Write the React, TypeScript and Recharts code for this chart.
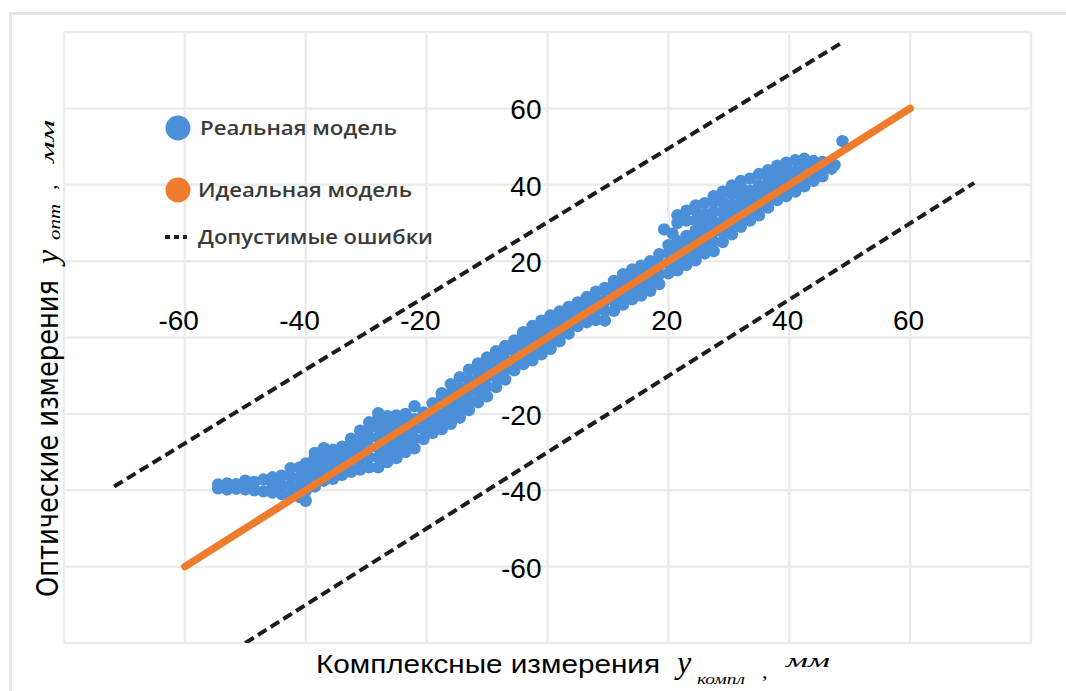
import React from 'react';
import { ScatterChart, Scatter, XAxis, YAxis, CartesianGrid, ReferenceDot } from 'recharts';

const W = 1066;
const H = 691;
const BLUE = '#4a8fd8';
const ORANGE = '#ef7b2d';
const DASH = '#1c1c1c';
const GRID = '#ebebeb';

const AXIS_TICKS = [-80, -60, -40, -20, 0, 20, 40, 60, 80];
const X_TICK_LABELS = [-60, -40, -20, 20, 40, 60];
const Y_TICK_LABELS = [60, 40, 20, -20, -40, -60];
const SERIES_NAMES = ['Реальная модель', 'Идеальная модель', 'Допустимые ошибки'];
const X_TITLE = 'Комплексные измерения';
const X_TITLE_SUB = 'компл';
const Y_TITLE = 'Оптические измерения';
const Y_TITLE_SUB = 'опт';
const UNIT = 'мм';

const IDEAL_LINE = [{ x: -60, y: -60 }, { x: 60, y: 60 }];
const UPPER_ERROR = [{ x: -71.7, y: -39 }, { x: 48.8, y: 77.3 }];
const LOWER_ERROR = [{ x: -50, y: -80 }, { x: 70.6, y: 40.5 }];

const REAL_POINTS: [number, number][] = [
  [-54.5, -39.5], [-54.5, -38.5],
  [-53, -39.8], [-53, -38.2],
  [-51.5, -39.6], [-51.5, -38.4],
  [-50, -39.8], [-50, -37.5],
  [-48.5, -40], [-48.5, -37.8],
  [-47, -40.3], [-47, -37.2],
  [-45.5, -40.6], [-45.5, -38.5], [-45.5, -36.6],
  [-44, -41], [-44, -38.6], [-44, -36.2],
  [-42.5, -41.3], [-42.5, -38.8], [-42.5, -36.3], [-42.5, -34.2],
  [-41, -41.8], [-41, -39.2], [-41, -36.6], [-41, -34],
  [-40, -42.8], [-40, -40.2], [-40, -37.6], [-40, -35.2], [-40, -33],
  [-38.5, -39], [-38.5, -36.5], [-38.5, -34], [-38.5, -31.5], [-38.5, -30.2],
  [-37, -37.5], [-37, -35], [-37, -32.5], [-37, -30], [-37, -29],
  [-35.5, -37], [-35.5, -34.6], [-35.5, -32], [-35.5, -29.4],
  [-34, -36], [-34, -33.5], [-34, -31], [-34, -28.6],
  [-32.5, -35.2], [-32.5, -32.6], [-32.5, -30], [-32.5, -27.5], [-32.5, -26.5],
  [-31, -34.6], [-31, -32], [-31, -29.5], [-31, -27], [-31, -24.4],
  [-29.5, -34], [-29.5, -31.4], [-29.5, -28.8], [-29.5, -26.2], [-29.5, -23.8], [-29.5, -22.2],
  [-28, -34], [-28, -31.4], [-28, -28.8], [-28, -26.2], [-28, -23.6], [-28, -21], [-28, -19.8],
  [-26.5, -32.6], [-26.5, -30], [-26.5, -27.4], [-26.5, -24.8], [-26.5, -22.2], [-26.5, -20.6],
  [-25, -31.6], [-25, -29], [-25, -26.4], [-25, -23.8], [-25, -21.2], [-25, -20.4],
  [-23.5, -30], [-23.5, -27.4], [-23.5, -24.8], [-23.5, -22.2], [-23.5, -20],
  [-22, -29], [-22, -26.4], [-22, -23.8], [-22, -21.4], [-22, -18],
  [-20.5, -26.6], [-20.5, -24], [-20.5, -21.6], [-20.5, -19.6],
  [-19, -25], [-19, -22.4], [-19, -19.8], [-19, -17.2],
  [-17.5, -24], [-17.5, -21.4], [-17.5, -18.8], [-17.5, -16.2], [-17.5, -14.6],
  [-16, -22.6], [-16, -20], [-16, -17.4], [-16, -14.8], [-16, -12.2],
  [-14.5, -21], [-14.5, -18.4], [-14.5, -15.8], [-14.5, -13.2], [-14.5, -10.4],
  [-13, -19], [-13, -16.4], [-13, -13.8], [-13, -11.2], [-13, -8.4],
  [-11.5, -17], [-11.5, -14.4], [-11.5, -11.8], [-11.5, -9.2], [-11.5, -6.8],
  [-10, -15.4], [-10, -12.8], [-10, -10.2], [-10, -7.6], [-10, -5.2],
  [-8.5, -13], [-8.5, -10.4], [-8.5, -7.8], [-8.5, -5.4], [-8.5, -3.6],
  [-7, -11], [-7, -8.4], [-7, -5.8], [-7, -3.4], [-7, -2.2],
  [-5.5, -8.6], [-5.5, -6], [-5.5, -3.4], [-5.5, -0.8],
  [-4, -7], [-4, -4.4], [-4, -1.8], [-4, 0.8], [-4, 1.4],
  [-2.5, -6], [-2.5, -3.4], [-2.5, -0.8], [-2.5, 1.8], [-2.5, 3],
  [-1, -4.4], [-1, -1.8], [-1, 0.8], [-1, 3.4], [-1, 4.4],
  [0.5, -3], [0.5, -0.4], [0.5, 2.2], [0.5, 4.8], [0.5, 5.8],
  [2, -1], [2, 1.6], [2, 4.2], [2, 6.8],
  [3.5, 1], [3.5, 3.6], [3.5, 6.2], [3.5, 8],
  [5, 3], [5, 5.6], [5, 8.2], [5, 9.2],
  [6.5, 4], [6.5, 6.6], [6.5, 9.2], [6.5, 10.6],
  [8, 4.6], [8, 7.2], [8, 9.8], [8, 12],
  [9.5, 4.4], [9.5, 7], [9.5, 9.6], [9.5, 12.2], [9.5, 13],
  [11, 7], [11, 9.6], [11, 12.2], [11, 14.8],
  [12.5, 8.6], [12.5, 11.2], [12.5, 13.8], [12.5, 16.6],
  [14, 10], [14, 12.6], [14, 15.2], [14, 17.8],
  [15.5, 11], [15.5, 13.6], [15.5, 16.2], [15.5, 18.8],
  [17, 12.2], [17, 14.8], [17, 17.4], [17, 20],
  [18.5, 14], [18.5, 16.6], [18.5, 19.2], [18.5, 21.8], [19.3, 28.3],
  [20, 16.8], [20, 19.4], [20, 22], [20, 24.2], [20.7, 27.2],
  [21.5, 17.6], [21.5, 20.2], [21.5, 22.8], [21.5, 25.2], [21.5, 30], [21.5, 32],
  [23, 19], [23, 21.6], [23, 24.2], [23, 26.6], [23, 30.6], [23, 33.2],
  [24.5, 20.2], [24.5, 22.8], [24.5, 25.4], [24.5, 28], [24.5, 30.6], [24.5, 33.2], [24.5, 34.6],
  [26, 22], [26, 24.6], [26, 27.2], [26, 29.8], [26, 32.4], [26, 35.2],
  [27.5, 22.6], [27.5, 25.2], [27.5, 27.8], [27.5, 30.4], [27.5, 33], [27.5, 35.6], [27.5, 37],
  [29, 25], [29, 27.6], [29, 30.2], [29, 32.8], [29, 35.4], [29, 38.2],
  [30.5, 27], [30.5, 29.6], [30.5, 32.2], [30.5, 34.8], [30.5, 37.4], [30.5, 39.8],
  [32, 29], [32, 31.6], [32, 34.2], [32, 36.8], [32, 39.4], [32, 41],
  [33.5, 30.6], [33.5, 33.2], [33.5, 35.8], [33.5, 38.4], [33.5, 41.6],
  [35, 32], [35, 34.6], [35, 37.2], [35, 39.8], [35, 42.8],
  [36.5, 34], [36.5, 36.6], [36.5, 39.2], [36.5, 41.8], [36.5, 43.8],
  [38, 36], [38, 38.6], [38, 41.2], [38, 43.8], [38, 45],
  [39.5, 37], [39.5, 39.6], [39.5, 42.2], [39.5, 44.8], [39.5, 45.8],
  [41, 38.2], [41, 40.8], [41, 43.4], [41, 46.4],
  [42.5, 39.6], [42.5, 42.2], [42.5, 44.8], [42.5, 46.8],
  [44, 41], [44, 43.6], [44, 46.2],
  [45.5, 42.2], [45.5, 44.6], [45.5, 46],
  [47, 44.2], [47.5, 45.2],
  [48.8, 51.4],
];

const realData = REAL_POINTS.map(([x, y]) => ({ x, y }));

const TICK_FONT = "'Liberation Sans', Arial, sans-serif";

function XTickText(props: any) {
  const vb = props.viewBox || { x: 0, y: 0 };
  return (
    <text x={vb.x + 14} y={vb.y - 8} textAnchor="end" fontFamily={TICK_FONT} fontSize={28} fill="#000">
      {props.value}
    </text>
  );
}

function YTickText(props: any) {
  const vb = props.viewBox || { x: 0, y: 0 };
  return (
    <text x={vb.x - 6} y={vb.y + 11} textAnchor="end" fontFamily={TICK_FONT} fontSize={28} fill="#000">
      {props.value}
    </text>
  );
}

const NoShape = () => null;

const RealDot = (props: any) => <circle cx={props.cx} cy={props.cy} r={6.2} fill={BLUE} />;

const LEGEND_FONT = "'Open Sans', 'Noto Sans', sans-serif";

function LegendBox() {
  return (
    <svg width={320} height={160} style={{ position: 'absolute', left: 150, top: 105, pointerEvents: 'none' }}>
      <circle cx={28} cy={23} r={12.5} fill={BLUE} />
      <text x={50} y={30} fontFamily={LEGEND_FONT} fontWeight={600} fontSize={19} fill="#3a3a3a"
        textLength={197} lengthAdjust="spacingAndGlyphs">{SERIES_NAMES[0]}</text>
      <circle cx={28} cy={85} r={12.5} fill={ORANGE} />
      <text x={48} y={92} fontFamily={LEGEND_FONT} fontWeight={600} fontSize={19} fill="#3a3a3a"
        textLength={214} lengthAdjust="spacingAndGlyphs">{SERIES_NAMES[1]}</text>
      <line x1={15} y1={132} x2={37} y2={132} stroke={DASH} strokeWidth={4} strokeDasharray="5 4" />
      <text x={48} y={139} fontFamily={LEGEND_FONT} fontWeight={600} fontSize={19} fill="#3a3a3a"
        textLength={235} lengthAdjust="spacingAndGlyphs">{SERIES_NAMES[2]}</text>
    </svg>
  );
}

export default function App() {
  return (
    <div style={{ position: 'absolute', left: 0, top: 0, width: W, height: H, background: '#fff', overflow: 'hidden' }}>
      <div style={{ position: 'absolute', left: 9, top: 12, width: W, height: H, borderTop: '3px solid #e6e6e6', borderLeft: '3px solid #e6e6e6' }} />
      <div style={{ position: 'absolute', left: 0, top: 0 }}>
        <ScatterChart width={W} height={H} margin={{ top: 32, right: 35, bottom: 48, left: 64 }}>
          <CartesianGrid stroke={GRID} strokeWidth={2.5} />
          <XAxis type="number" dataKey="x" domain={[-80, 80]} ticks={AXIS_TICKS} hide allowDataOverflow />
          <YAxis type="number" dataKey="y" domain={[-80, 80]} ticks={AXIS_TICKS} hide allowDataOverflow />
          <Scatter name={SERIES_NAMES[2]} data={UPPER_ERROR} shape={<NoShape />} isAnimationActive={false}
            line={{ stroke: DASH, strokeWidth: 4, strokeDasharray: '10 5' }} />
          <Scatter name={SERIES_NAMES[2]} data={LOWER_ERROR} shape={<NoShape />} isAnimationActive={false}
            line={{ stroke: DASH, strokeWidth: 4, strokeDasharray: '10 5' }} />
          <Scatter name={SERIES_NAMES[0]} data={realData} shape={RealDot} fill={BLUE} isAnimationActive={false} />
          <Scatter name={SERIES_NAMES[1]} data={IDEAL_LINE} shape={<NoShape />} isAnimationActive={false}
            line={{ stroke: ORANGE, strokeWidth: 7.5, strokeLinecap: 'round' }} />
          {X_TICK_LABELS.map((v) => (
            <ReferenceDot key={'x' + v} x={v} y={0} r={0} ifOverflow="visible"
              label={{ value: String(v), content: XTickText }} />
          ))}
          {Y_TICK_LABELS.map((v) => (
            <ReferenceDot key={'y' + v} x={0} y={v} r={0} ifOverflow="visible"
              label={{ value: String(v), content: YTickText }} />
          ))}
        </ScatterChart>
      </div>
      <LegendBox />
      <svg width={W} height={H} style={{ position: 'absolute', left: 0, top: 0, pointerEvents: 'none' }}>
        <text transform="translate(58,597) rotate(-90)" fontFamily="'DejaVu Sans', sans-serif" fontSize={30}
          fill="#000" textLength={317} lengthAdjust="spacingAndGlyphs">{Y_TITLE}</text>
        <text transform="translate(58,264) rotate(-90)" fontFamily="'Liberation Serif', serif" fontStyle="italic"
          fontSize={32} fill="#000">y</text>
        <text transform="translate(60,240) rotate(-90)" fontFamily="'Liberation Serif', serif" fontStyle="italic"
          fontSize={17} fill="#000" textLength={36} lengthAdjust="spacingAndGlyphs">{Y_TITLE_SUB}</text>
        <text transform="translate(56,190) rotate(-90)" fontFamily="'Liberation Serif', serif" fontStyle="italic"
          fontSize={22} fill="#000">,</text>
        <text transform="translate(54,163) rotate(-90)" fontFamily="'Liberation Serif', serif" fontStyle="italic"
          fontSize={19} fill="#000" textLength={43} lengthAdjust="spacingAndGlyphs">{UNIT}</text>

        <text x={316} y={673} fontFamily={TICK_FONT} fontSize={25} fill="#000" textLength={344}
          lengthAdjust="spacingAndGlyphs">{X_TITLE}</text>
        <text x={677} y={673} fontFamily="'Liberation Serif', serif" fontStyle="italic" fontSize={32} fill="#000">y</text>
        <text x={697} y={684} fontFamily="'Liberation Serif', serif" fontStyle="italic" fontSize={15} fill="#000"
          textLength={48} lengthAdjust="spacingAndGlyphs">{X_TITLE_SUB}</text>
        <text x={762} y={678} fontFamily="'Liberation Serif', serif" fontStyle="italic" fontSize={22} fill="#000">,</text>
        <text x={786} y={667} fontFamily="'Liberation Serif', serif" fontStyle="italic" fontSize={18} fill="#000"
          textLength={44} lengthAdjust="spacingAndGlyphs">{UNIT}</text>
      </svg>
    </div>
  );
}
